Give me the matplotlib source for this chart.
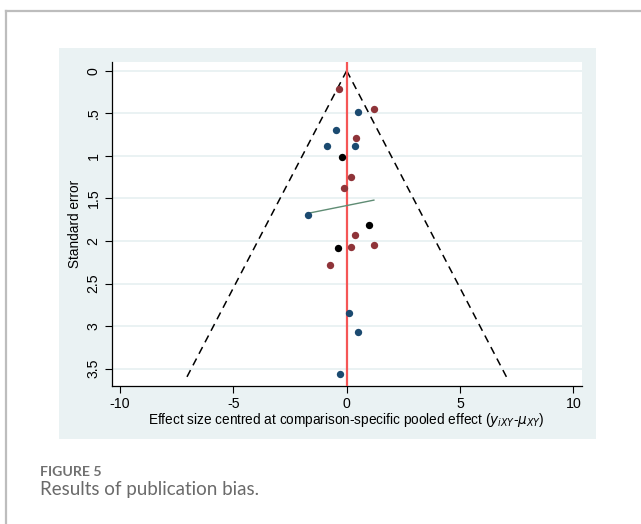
import matplotlib

matplotlib.use("Agg")
import matplotlib.pyplot as plt
from matplotlib.patches import Rectangle
from matplotlib.lines import Line2D
import numpy as np

# comparison-adjusted funnel plot data
red_x = [-0.33, 0.41, 0.18, -0.13, 1.20, 0.38, 1.20, 0.18, -0.72]
red_se = [0.22, 0.79, 1.25, 1.38, 0.45, 1.93, 2.05, 2.07, 2.28]
blue_x = [0.48, -0.49, -0.87, 0.35, -1.72, 0.09, 0.51, -0.31]
blue_se = [0.485, 0.70, 0.89, 0.89, 1.69, 2.85, 3.07, 3.56]
black_x = [-0.21, 1.00, -0.37]
black_se = [1.01, 1.81, 2.085]

egger_x = [-1.71, 1.20]
egger_se = [1.675, 1.52]

se_max = 3.6
x_ticks = [-10, -5, 0, 5, 10]
y_ticks = [0, 0.5, 1, 1.5, 2, 2.5, 3, 3.5]
y_ticklabels = ["0", ".5", "1", "1.5", "2", "2.5", "3", "3.5"]

PANEL = "#eaf2f3"
RED = "#8f3439"
BLUE = "#1b4a70"
LINE_RED = "#f55656"
GREEN = "#5f8c74"

W, H = 641, 524
fig = plt.figure(figsize=(W / 100, H / 100), dpi=100)
fig.patch.set_facecolor("white")

# page border lines
fig.add_artist(Line2D([5.7 / W, 5.7 / W], [0, 1 - 10.7 / H], color="#bdbdbd",
                      lw=1.6, transform=fig.transFigure))
fig.add_artist(Line2D([5.7 / W, 1], [1 - 10.7 / H, 1 - 10.7 / H], color="#bdbdbd",
                      lw=1.6, transform=fig.transFigure))

# stata-like graph region
fig.add_artist(Rectangle((59 / W, 1 - 439 / H), (596 - 59) / W, (439 - 48) / H,
                         facecolor=PANEL, edgecolor="none", transform=fig.transFigure,
                         zorder=0))

ax = fig.add_axes([111.7 / W, 1 - 385.7 / H, (581.7 - 111.7) / W, (385.7 - 61.7) / H])
ax.set_facecolor("white")
ax.set_xlim(-10.37, 10.37)
ax.set_ylim(3.70, -0.106)

for t in y_ticks:
    ax.axhline(t, color=PANEL, lw=1.4, zorder=1)

se = np.array([0, se_max])
ax.plot(-1.96 * se, se, color="black", lw=1.1, ls=(0, (5, 3.5)), zorder=2)
ax.plot(1.96 * se, se, color="black", lw=1.1, ls=(0, (5, 3.5)), zorder=2)
ax.axvline(0, color=LINE_RED, lw=1.6, zorder=3)

ax.plot(egger_x, egger_se, color=GREEN, lw=1.0, zorder=4)
ax.scatter(red_x, red_se, s=28, color=RED, zorder=5, linewidths=0)
ax.scatter(blue_x, blue_se, s=28, color=BLUE, zorder=5, linewidths=0)
ax.scatter(black_x, black_se, s=28, color="black", zorder=5, linewidths=0)

for s in ["top", "right"]:
    ax.spines[s].set_visible(False)
for s in ["left", "bottom"]:
    ax.spines[s].set_linewidth(0.9)

tick_font = dict(family="Liberation Sans", size=10.2)
ax.set_xticks(x_ticks)
ax.set_xticklabels([str(t) for t in x_ticks], **tick_font)
ax.set_yticks(y_ticks)
ax.set_yticklabels(y_ticklabels, rotation=90, va="center", **tick_font)
ax.tick_params(direction="out", length=5, width=0.8, pad=3)

ax.set_xlabel(r"Effect size centred at comparison-specific pooled effect "
              r"($y_{iXY}$-$\mu_{XY}$)", family="Liberation Sans", size=9.8,
              labelpad=0)
ax.set_ylabel("Standard error", family="Liberation Sans", size=9.8, labelpad=3)

fig.text(40 / W, 1 - 472 / H, "FIGURE 5", family="Lato", weight="bold",
         size=10.2, color="#707070", va="center", ha="left")
fig.text(40 / W, 1 - 489 / H, "Results of publication bias.", family="Lato",
         size=13.5, color="#6a6a6a", va="center", ha="left")

fig.savefig("out.png", dpi=100)
